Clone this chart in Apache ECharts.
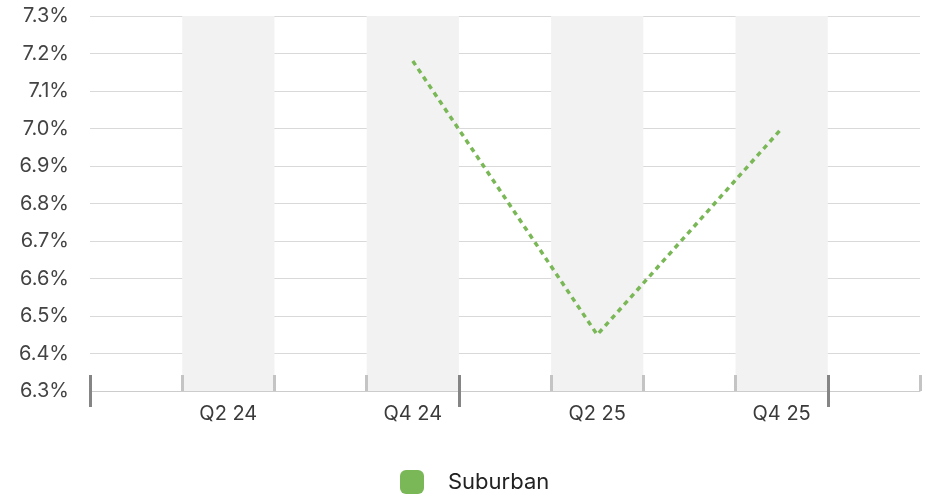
<!DOCTYPE html>
<html>
<head>
<meta charset="utf-8">
<script src="https://cdn.jsdelivr.net/npm/echarts@6/dist/echarts.min.js"></script>
<style>
html,body{margin:0;padding:0;background:#fff;}
#chart{width:926px;height:498px;}
</style>
</head>
<body>
<div id="chart"></div>
<script>
var categories = ['Q1 24','Q2 24','Q3 24','Q4 24','Q1 25','Q2 25','Q3 25','Q4 25','Q1 26'];
var suburban = [null, null, null, 7.18, null, 6.45, null, 7.0, null];
var yMin = 6.3, yMax = 7.3, yStep = 0.1;
var yearBoundaries = [0, 4, 8];

var chart = echarts.init(document.getElementById('chart'));
var font = 'Inter, "Noto Sans", sans-serif';
chart.setOption({
  animation: false,
  grid: { left: 90, right: 6, top: 16, bottom: 107, containLabel: false },
  xAxis: [
    {
      type: 'category',
      data: categories,
      boundaryGap: true,
      axisLine: { show: true, lineStyle: { color: '#cccccc', width: 1 } },
      axisTick: { show: true, inside: true, length: 16, interval: 0, lineStyle: { color: '#c4c4c4', width: 3 } },
      axisLabel: {
        interval: function (i) { return i % 2 === 1; },
        margin: 13, fontSize: 20, color: '#3a3a3a', fontFamily: font
      },
      splitLine: { show: false },
      splitArea: { show: true, interval: 0, areaStyle: { color: ['rgba(255,255,255,0)', '#f2f2f2'] } }
    },
    {
      type: 'value', position: 'bottom', min: 0, max: categories.length, z: 5,
      axisLine: { show: false },
      axisTick: { show: true, inside: true, length: 16, customValues: yearBoundaries, lineStyle: { color: '#858585', width: 3 } },
      axisLabel: { show: false }, splitLine: { show: false }
    },
    {
      type: 'value', position: 'bottom', min: 0, max: categories.length, z: 5,
      axisLine: { show: false },
      axisTick: { show: true, inside: false, length: 16, customValues: yearBoundaries, lineStyle: { color: '#858585', width: 3 } },
      axisLabel: { show: false }, splitLine: { show: false }
    }
  ],
  yAxis: {
    type: 'value', min: yMin, max: yMax, interval: yStep,
    axisLine: { show: false }, axisTick: { show: false },
    axisLabel: {
      margin: 21, fontSize: 20, color: '#444444', fontFamily: font,
      formatter: function (v) { return v.toFixed(1) + '%'; }
    },
    splitLine: { lineStyle: { color: '#d9d9d9', width: 1 } }
  },
  legend: {
    show: true, left: 395, top: 465, icon: 'roundRect',
    itemWidth: 24, itemHeight: 24,
    textStyle: { fontSize: 22, color: '#222222', fontFamily: font, padding: [0, 0, 0, 19] },
    data: ['Suburban']
  },
  series: [{
    name: 'Suburban', type: 'line', xAxisIndex: 0,
    data: suburban, connectNulls: true, showSymbol: false, symbol: 'none',
    itemStyle: { color: '#7ab756' },
    lineStyle: { color: '#7ab756', width: 3.5, type: [5, 4.5] },
    z: 10
  }]
});
</script>
</body>
</html>
